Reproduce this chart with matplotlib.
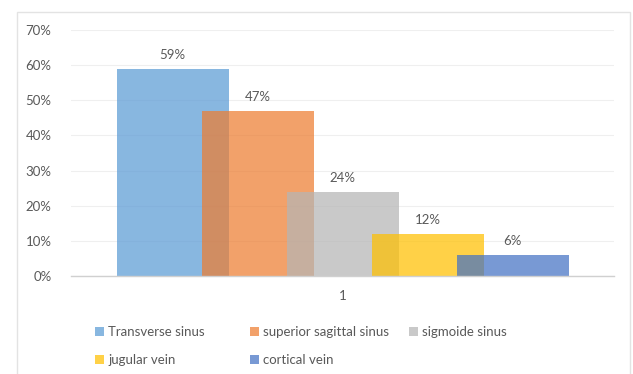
import matplotlib
matplotlib.use("Agg")
import matplotlib.pyplot as plt
from matplotlib.patches import Rectangle

series = ["Transverse sinus", "superior sagittal sinus", "sigmoide sinus",
          "jugular vein", "cortical vein"]
valores = [59, 47, 24, 12, 6]
colores = ["#5B9BD5", "#ED7D31", "#B5B5B5", "#FFC000", "#4472C4"]
categoria = "1"
yticks = [0, 10, 20, 30, 40, 50, 60, 70]

plt.rcParams["font.family"] = ["Lato", "DejaVu Sans"]
gris = "#595959"

fig = plt.figure(figsize=(6.33, 3.74), dpi=100)
# marco del grafico
fig.patches.append(Rectangle((17 / 633, -0.1), (630 - 17) / 633, 1.1 - 12 / 374,
                             transform=fig.transFigure, fill=False,
                             edgecolor="#E3E3E3", linewidth=1.0))

ax = fig.add_axes([71 / 633, 1 - 276 / 374, (614 - 71) / 633, (276 - 30) / 374])

ancho = 112 / 543
paso = 85 / 543
for i, (nombre, v, c) in enumerate(zip(series, valores, colores)):
    x = (i - 2) * paso
    ax.bar(x, v, width=ancho, color=c, alpha=0.72, label=nombre, zorder=2)
    ax.text(x, v + 2.2, f"{v}%", ha="center", va="bottom", fontsize=9.5, color=gris)

ax.set_xlim(-0.5, 0.5)
ax.set_ylim(0, 70)
ax.set_yticks(yticks)
ax.set_yticklabels([f"{t}%" for t in yticks])
ax.set_xticks([0])
ax.set_xticklabels([categoria])
ax.tick_params(axis="both", length=0, labelsize=9.5, labelcolor=gris)
ax.tick_params(axis="y", pad=14)
ax.tick_params(axis="x", pad=10)
ax.grid(axis="y", color="#EFEFEF", linewidth=0.8, zorder=0)
for s in ["top", "right", "left"]:
    ax.spines[s].set_visible(False)
ax.spines["bottom"].set_color("#D0D0D0")
ax.spines["bottom"].set_linewidth(1.0)

# leyenda: tres columnas colocadas a mano, como en Excel
h, l = ax.get_legend_handles_labels()
columnas = [([0, 3], 86), ([1, 4], 241), ([2], 400)]
for idx, xpix in columnas:
    leg = fig.legend([h[k] for k in idx], [l[k] for k in idx], ncol=1,
                     loc="upper left", bbox_to_anchor=(xpix / 633, 1 - 317 / 374),
                     frameon=False, fontsize=9.5, labelcolor=gris,
                     handlelength=0.7, handleheight=0.7, handletextpad=0.3,
                     labelspacing=1.2, borderpad=0.2)

fig.savefig("out.png", dpi=100)
